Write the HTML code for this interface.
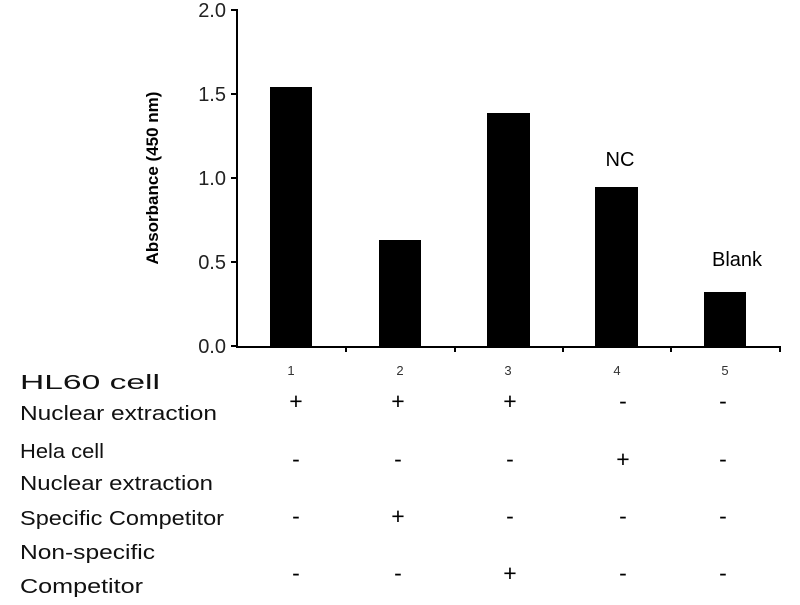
<!DOCTYPE html>
<html><head><style>
body{margin:0;width:800px;height:600px;background:#fff;overflow:hidden}
svg{font-family:"Liberation Sans",Arial,sans-serif}
.t{font-size:20px;fill:#111}
.s{font-size:23px;fill:#000;text-anchor:middle}
</style></head><body>
<svg width="800" height="600" viewBox="0 0 800 600">
<g stroke="#000" stroke-width="2">
<line x1="237" y1="9" x2="237" y2="347"/>
<line x1="236" y1="347" x2="781" y2="347"/>
<line x1="231" y1="10" x2="237" y2="10"/>
<line x1="231" y1="94" x2="237" y2="94"/>
<line x1="231" y1="178" x2="237" y2="178"/>
<line x1="231" y1="262" x2="237" y2="262"/>
<line x1="231" y1="346" x2="237" y2="346"/>
<line x1="346" y1="347" x2="346" y2="352"/>
<line x1="455" y1="347" x2="455" y2="352"/>
<line x1="563" y1="347" x2="563" y2="352"/>
<line x1="671" y1="347" x2="671" y2="352"/>
<line x1="780" y1="347" x2="780" y2="352"/>
</g>
<g font-size="20" fill="#222" text-anchor="end">
<text x="226" y="17">2.0</text><text x="226" y="101">1.5</text><text x="226" y="185">1.0</text><text x="226" y="269">0.5</text><text x="226" y="353">0.0</text>
</g>
<text transform="translate(158,178) rotate(-90)" text-anchor="middle" font-size="17" font-weight="bold">Absorbance (450 nm)</text>
<g fill="#000">
<rect x="270" y="87" width="42" height="260"/>
<rect x="379" y="240" width="42" height="107"/>
<rect x="487" y="113" width="43" height="234"/>
<rect x="595" y="187" width="43" height="160"/>
<rect x="704" y="292" width="42" height="55"/>
</g>
<g font-size="13" fill="#333" text-anchor="middle">
<text x="291" y="375">1</text><text x="400" y="375">2</text><text x="508" y="375">3</text><text x="617" y="375">4</text><text x="725" y="375">5</text>
</g>
<text x="620" y="166" font-size="20" text-anchor="middle">NC</text>
<text x="737" y="266" font-size="20" text-anchor="middle">Blank</text>
<text class="t" x="20" y="389" textLength="140" lengthAdjust="spacingAndGlyphs">HL60 cell</text>
<text class="t" x="20" y="420" textLength="197" lengthAdjust="spacingAndGlyphs">Nuclear extraction</text>
<text class="t" x="20" y="458" textLength="84" lengthAdjust="spacingAndGlyphs">Hela cell</text>
<text class="t" x="20" y="490" textLength="193" lengthAdjust="spacingAndGlyphs">Nuclear extraction</text>
<text class="t" x="20" y="525" textLength="204" lengthAdjust="spacingAndGlyphs">Specific Competitor</text>
<text class="t" x="20" y="559" textLength="135" lengthAdjust="spacingAndGlyphs">Non-specific</text>
<text class="t" x="20" y="593" textLength="123" lengthAdjust="spacingAndGlyphs">Competitor</text>
<g>
<text class="s" x="296" y="409">+</text><text class="s" x="398" y="409">+</text><text class="s" x="510" y="409">+</text><text class="s" x="623" y="409">-</text><text class="s" x="723" y="409">-</text>
<text class="s" x="296" y="467">-</text><text class="s" x="398" y="467">-</text><text class="s" x="510" y="467">-</text><text class="s" x="623" y="467">+</text><text class="s" x="723" y="467">-</text>
<text class="s" x="296" y="524">-</text><text class="s" x="398" y="524">+</text><text class="s" x="510" y="524">-</text><text class="s" x="623" y="524">-</text><text class="s" x="723" y="524">-</text>
<text class="s" x="296" y="581">-</text><text class="s" x="398" y="581">-</text><text class="s" x="510" y="581">+</text><text class="s" x="623" y="581">-</text><text class="s" x="723" y="581">-</text>
</g>
</svg>
</body></html>
